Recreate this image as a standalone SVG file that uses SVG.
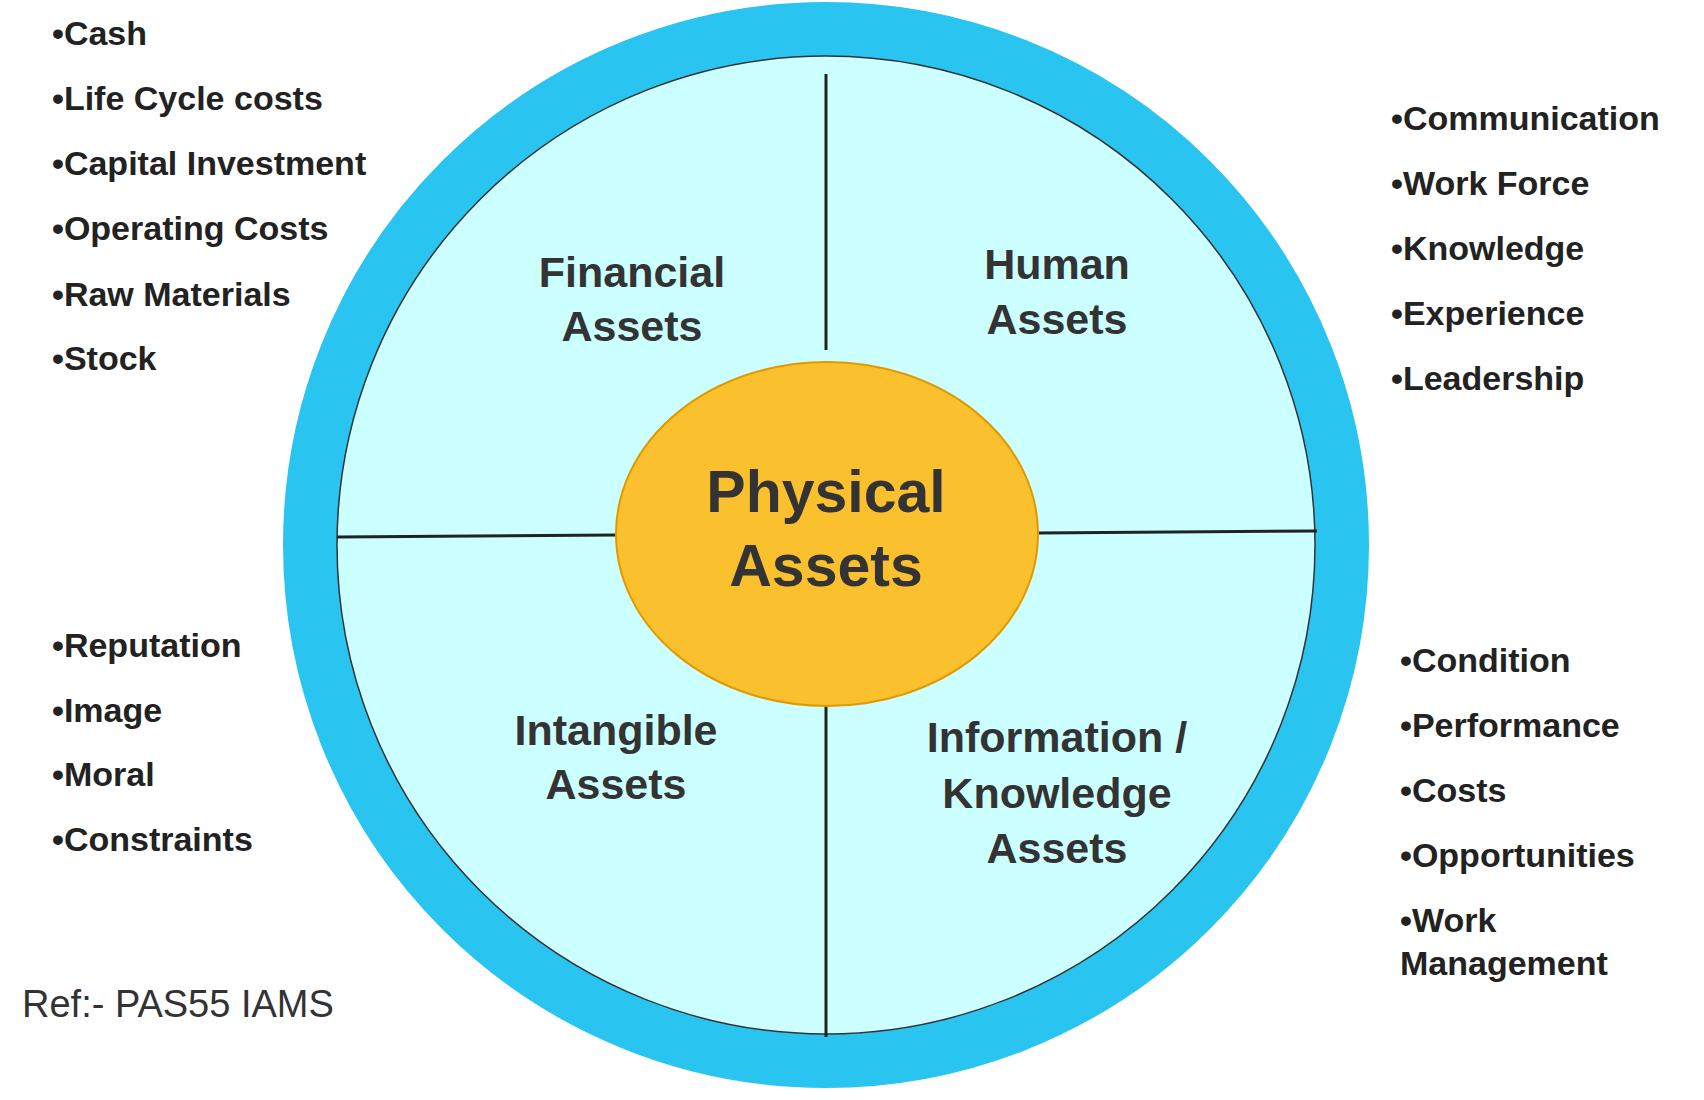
<svg xmlns="http://www.w3.org/2000/svg" width="1704" height="1100" viewBox="0 0 1704 1100">
<style>
.l{font-family:"Liberation Sans",Arial,sans-serif;font-weight:bold;font-size:34px;fill:#222}
.q{font-family:"Liberation Sans",Arial,sans-serif;font-weight:bold;font-size:43px;fill:#333;text-anchor:middle}
.div{stroke:#222;stroke-width:3}
</style>
<rect width="1704" height="1100" fill="#fff"/>
<g id="ring"><circle cx="826" cy="545" r="516" fill="#ccffff" stroke="#29c4ef" stroke-width="54"/><circle cx="826" cy="545" r="489" fill="none" stroke="#333" stroke-width="1.5"/></g>
<g id="connectors">
<line class="div" x1="826" y1="74" x2="826" y2="350"/>
<line class="div" x1="826" y1="705" x2="826" y2="1037"/>
<line class="div" x1="337" y1="537" x2="617" y2="535"/>
<line class="div" x1="1037" y1="533" x2="1317" y2="531"/>
</g>
<g id="physical"><ellipse cx="827" cy="534" rx="211" ry="172" fill="#fbc02d" stroke="#e09a00" stroke-width="2"/>
<text class="q" style="font-size:59px" x="826" y="512">Physical</text><text class="q" style="font-size:59px" x="826" y="586">Assets</text></g>
<g id="financial"><text class="q" x="632" y="287">Financial</text><text class="q" x="632" y="341">Assets</text></g>
<g id="human"><text class="q" x="1057" y="279">Human</text><text class="q" x="1057" y="334">Assets</text></g>
<g id="intangible"><text class="q" x="616" y="745">Intangible</text><text class="q" x="616" y="799">Assets</text></g>
<g id="information"><text class="q" x="1057" y="752">Information /</text><text class="q" x="1057" y="808">Knowledge</text><text class="q" x="1057" y="863">Assets</text></g>
<g id="list-financial" class="l">
<text x="52" y="45">•Cash</text><text x="52" y="110">•Life Cycle costs</text><text x="52" y="175">•Capital Investment</text><text x="52" y="240">•Operating Costs</text><text x="52" y="306">•Raw Materials</text><text x="52" y="370">•Stock</text></g>
<g id="list-human" class="l">
<text x="1391" y="130">•Communication</text><text x="1391" y="195">•Work Force</text><text x="1391" y="260">•Knowledge</text><text x="1391" y="325">•Experience</text><text x="1391" y="390">•Leadership</text></g>
<g id="list-intangible" class="l">
<text x="52" y="657">•Reputation</text><text x="52" y="722">•Image</text><text x="52" y="786">•Moral</text><text x="52" y="851">•Constraints</text></g>
<g id="list-info" class="l">
<text x="1400" y="672">•Condition</text><text x="1400" y="737">•Performance</text><text x="1400" y="802">•Costs</text><text x="1400" y="867">•Opportunities</text><text x="1400" y="932">•Work</text><text x="1400" y="975">Management</text></g>
<text x="22" y="1017" style="font-family:'Liberation Sans',Arial,sans-serif;font-size:38px;fill:#333">Ref:- PAS55 IAMS</text>
</svg>
